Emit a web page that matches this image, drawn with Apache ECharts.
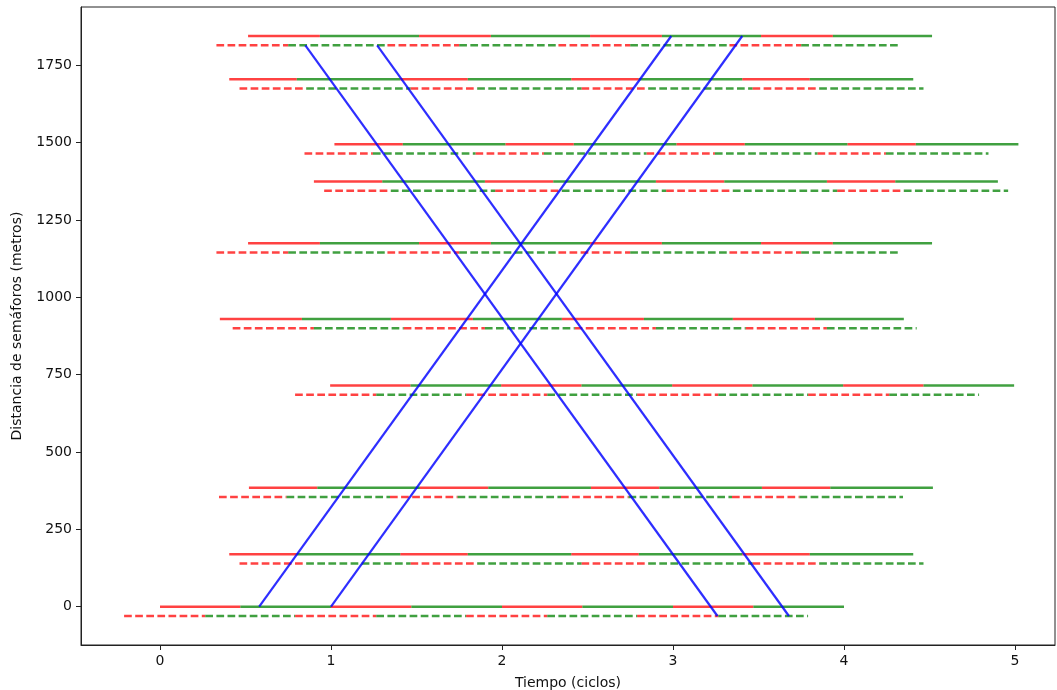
<!DOCTYPE html>
<html>
<head>
<meta charset="utf-8">
<script src="https://cdn.jsdelivr.net/npm/echarts@6/dist/echarts.min.js"></script>
<style>
  html, body { margin: 0; padding: 0; background: #fff; }
  #chart { width: 1057px; height: 690px; }
</style>
</head>
<body>
<div id="chart"></div>
<script>
// Intersections along the corridor (metres) and their signal plans (cycles).
// Solid band: direction of travel up the corridor; dashed band: the opposite direction.
const distances     = [1845, 1705, 1495, 1375, 1175, 930, 715, 385, 170, 0];
const solidOffsets  = [0.515, 0.405, 1.02, 0.90, 0.515, 0.35, 0.995, 0.52, 0.405, 0.0];
const solidRed      = [0.42, 0.395, 0.40, 0.40, 0.42, 0.48, 0.47, 0.40, 0.395, 0.47];
const dashedOffsets = [0.33, 0.465, 0.845, 0.96, 0.33, 0.425, 0.79, 0.345, 0.465, -0.21];
const dashedRed     = [0.42, 0.39, 0.40, 0.39, 0.42, 0.475, 0.475, 0.395, 0.39, 0.475];
const dashedShift   = 30;   // dashed band drawn this far below the intersection
const cycleLength   = 1;
const cyclesShown   = 4;

// Progression band edges: [time at start, time at end]
const upTimes   = [[0.58, 2.99], [1.0, 3.405]];   // from 0 m up to the last intersection
const downTimes = [[0.85, 3.26], [1.27, 3.678]];  // from the last intersection back to 0 m

const xTicks = [0, 1, 2, 3, 4, 5];
const yTicks = [0, 250, 500, 750, 1000, 1250, 1500, 1750];

const RED = 'rgba(255,0,0,0.74)';
const GREEN = 'rgba(0,128,0,0.75)';
const BLUE = 'rgba(0,0,255,0.82)';

function phaseSegments(offset, red, y) {
  const reds = [], greens = [];
  for (let k = 0; k < cyclesShown; k++) {
    const s = offset + k * cycleLength;
    reds.push([s, y], [s + red, y], [s + red, null]);
    greens.push([s + red, y], [s + cycleLength, y], [s + cycleLength, null]);
  }
  return { reds, greens };
}

const series = [];
function addLine(data, color, dashed) {
  series.push({
    type: 'line', data, symbol: 'none', silent: true, animation: false,
    connectNulls: false,
    lineStyle: { color, width: 2.5, type: dashed ? [7.7, 3.4] : 'solid', cap: 'butt' },
    z: 2
  });
}

distances.forEach((d, i) => {
  const s = phaseSegments(solidOffsets[i], solidRed[i], d);
  addLine(s.reds, RED, false);
  addLine(s.greens, GREEN, false);
  const b = phaseSegments(dashedOffsets[i], dashedRed[i], d - dashedShift);
  addLine(b.reds, RED, true);
  addLine(b.greens, GREEN, true);
});

const farEnd = distances[0];
const nearEnd = distances[distances.length - 1];
upTimes.forEach(([t0, t1]) => {
  series.push({
    type: 'line', data: [[t0, nearEnd], [t1, farEnd]], symbol: 'none', silent: true,
    animation: false, lineStyle: { color: BLUE, width: 2.2 }, z: 3
  });
});
downTimes.forEach(([t0, t1]) => {
  series.push({
    type: 'line', data: [[t0, farEnd - dashedShift], [t1, nearEnd - dashedShift]], symbol: 'none',
    silent: true, animation: false, lineStyle: { color: BLUE, width: 2.2 }, z: 3
  });
});

const labelFont = { fontFamily: 'DejaVu Sans', fontSize: 14, color: '#111' };

const chart = echarts.init(document.getElementById('chart'), null, { renderer: 'canvas' });
chart.setOption({
  animation: false,
  backgroundColor: '#fff',
  grid: {
    left: 81, right: 2, top: 7, bottom: 45,
    containLabel: false, outerBoundsMode: 'none',
    show: true, borderColor: '#222', borderWidth: 1, backgroundColor: 'transparent'
  },
  xAxis: {
    type: 'value', min: -0.462, max: 5.234,
    name: 'Tiempo (ciclos)', nameLocation: 'middle', nameGap: 31,
    nameTextStyle: labelFont,
    axisLine: { show: true, onZero: false, lineStyle: { color: '#222' } },
    axisTick: { show: true, length: 5, customValues: xTicks, lineStyle: { color: '#222' } },
    axisLabel: Object.assign({ margin: 9, customValues: xTicks, formatter: v => String(v) }, labelFont),
    splitLine: { show: false }
  },
  yAxis: {
    type: 'value', min: -123.75, max: 1938.75,
    name: 'Distancia de semáforos (metros)', nameLocation: 'middle', nameGap: 57,
    nameTextStyle: labelFont,
    axisLine: { show: true, onZero: false, lineStyle: { color: '#222' } },
    axisTick: { show: true, length: 5, customValues: yTicks, lineStyle: { color: '#222' } },
    axisLabel: Object.assign({ margin: 9, customValues: yTicks, formatter: v => String(v) }, labelFont),
    splitLine: { show: false }
  },
  series
});
</script>
</body>
</html>
